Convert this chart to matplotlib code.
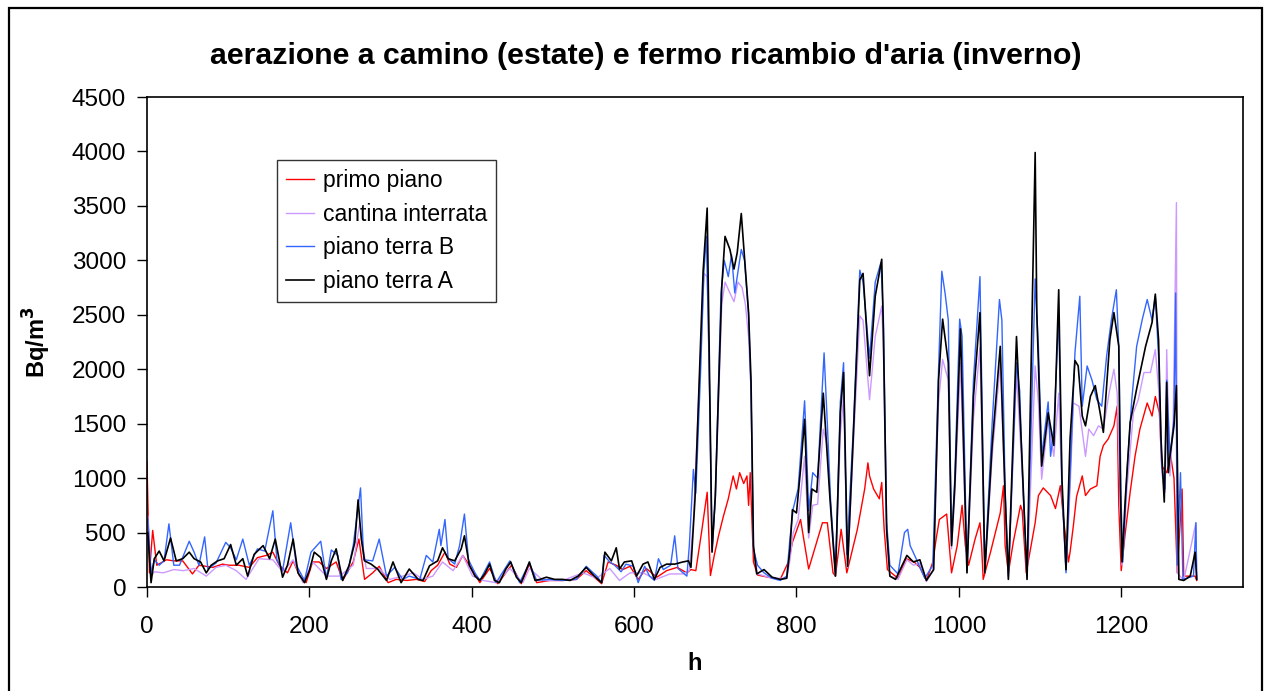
import matplotlib
matplotlib.use('Agg')
import matplotlib.pyplot as plt
from matplotlib.patches import Rectangle

plt.rcParams['font.family'] = ['Liberation Sans', 'DejaVu Sans']

TITLE = "aerazione a camino (estate) e fermo ricambio d'aria (inverno)"
LABELS = ['primo piano', 'cantina interrata', 'piano terra B', 'piano terra A']
COLORS = ['#FF0000', '#CC99FF', '#3366FF', '#000000']
WIDTHS = [1.0, 1.0, 1.0, 1.2]

# primo piano (red)
red_h = [0, 3, 7, 12, 24, 33, 44, 56, 64, 81, 93, 101, 113, 126, 136, 147, 155, 163, 173, 180,
         188, 196, 204, 212, 221, 233, 241, 254, 261, 268, 278, 286, 297, 307, 320, 332, 342, 350, 358, 367,
         373, 381, 389, 397, 410, 422, 432, 449, 461, 471, 480, 496, 512, 529, 541, 554, 560, 568, 578, 586,
         595, 605, 615, 628, 640, 653, 665, 670, 676, 683, 690, 694, 699, 704, 710, 716, 722, 726, 730, 735,
         739, 741, 743, 747, 752, 765, 780, 790, 795, 805, 811, 815, 820, 832, 838, 845, 848, 855, 862, 875,
         884, 888, 890, 895, 902, 905, 908, 912, 925, 935, 945, 952, 960, 968, 972, 976, 985, 991, 998, 1004,
         1008, 1012, 1020, 1026, 1028, 1030, 1039, 1051, 1055, 1057, 1061, 1067, 1076, 1078, 1083, 1094, 1098, 1104, 1113, 1119,
         1125, 1129, 1135, 1137, 1141, 1145, 1152, 1156, 1162, 1170, 1174, 1178, 1184, 1191, 1195, 1197, 1200, 1205, 1211, 1217,
         1223, 1232, 1238, 1242, 1247, 1250, 1256, 1261, 1265, 1269, 1275, 1277, 1291, 1293]
red_v = [1150, 130, 520, 200, 250, 240, 240, 120, 200, 180, 210, 200, 200, 180, 270, 290, 320, 200, 130, 240,
         100, 40, 230, 230, 170, 230, 60, 230, 440, 70, 130, 190, 40, 70, 60, 70, 50, 150, 200, 320,
         210, 180, 290, 200, 40, 170, 30, 200, 30, 210, 40, 60, 60, 70, 150, 70, 30, 230, 200, 160,
         190, 70, 170, 90, 150, 180, 130, 160, 150, 500, 870, 105, 300, 470, 650, 810, 1020, 900, 1050, 950,
         1020, 750, 1050, 230, 110, 90, 70, 230, 410, 620, 350, 165, 290, 590, 590, 130, 100, 530, 130, 530,
         900, 1140, 1020, 900, 810, 960, 530, 160, 80, 260, 230, 180, 60, 230, 440, 620, 670, 130, 380, 750,
         380, 200, 440, 590, 380, 70, 320, 680, 930, 380, 130, 410, 750, 700, 130, 590, 840, 910, 840, 720,
         930, 620, 230, 320, 560, 830, 1020, 840, 900, 930, 1200, 1300, 1360, 1480, 1660, 750, 150, 500, 870, 1200,
         1450, 1690, 1570, 1750, 1600, 1110, 1050, 1200, 1000, 130, 900, 100, 100, 60]

# cantina interrata (lilac)
lilac_h = [1, 5, 9, 20, 33, 45, 58, 73, 85, 97, 110, 122, 138, 155, 167, 180, 192, 204, 221, 237,
           254, 262, 270, 286, 299, 315, 328, 340, 352, 364, 377, 389, 401, 414, 430, 447, 463, 471, 488, 512,
           537, 554, 570, 582, 595, 611, 627, 644, 660, 668, 673, 680, 686, 690, 693, 696, 700, 708, 712, 718,
           723, 728, 733, 737, 741, 744, 747, 752, 770, 788, 792, 796, 802, 806, 810, 815, 820, 826, 833, 838,
           842, 848, 854, 858, 863, 870, 878, 882, 890, 897, 905, 907, 911, 915, 925, 936, 944, 952, 960, 968,
           975, 980, 987, 991, 995, 1002, 1010, 1018, 1026, 1032, 1041, 1051, 1057, 1061, 1071, 1078, 1084, 1094, 1098, 1102,
           1110, 1117, 1123, 1127, 1132, 1137, 1141, 1148, 1156, 1160, 1166, 1172, 1178, 1185, 1191, 1195, 1199, 1201, 1207, 1215,
           1221, 1228, 1236, 1242, 1246, 1250, 1254, 1256, 1260, 1264, 1268, 1269, 1277, 1292, 1293]
lilac_v = [650, 100, 140, 130, 160, 150, 170, 100, 180, 200, 150, 70, 260, 250, 140, 250, 40, 230, 100, 100,
           200, 590, 170, 170, 70, 100, 130, 70, 100, 230, 150, 290, 100, 60, 40, 170, 40, 170, 60, 60,
           130, 80, 170, 60, 130, 130, 70, 120, 120, 150, 600, 1800, 2880, 2850, 1800, 330, 800, 2600, 2800, 2700,
           2620, 2800, 2750, 2600, 2300, 1800, 350, 120, 80, 80, 250, 500, 620, 900, 1200, 450, 750, 760, 1450, 1300,
           750, 100, 1400, 1750, 180, 1300, 2490, 2450, 1720, 2300, 2580, 2200, 500, 100, 70, 250, 200, 220, 50, 150,
           1700, 2090, 1900, 350, 850, 2060, 130, 1550, 2200, 130, 1200, 2060, 800, 70, 1970, 1050, 70, 2030, 1700, 990,
           1540, 1200, 1780, 900, 150, 900, 1690, 1660, 1200, 1450, 1390, 1480, 1450, 1780, 2000, 1780, 700, 200, 900, 1600,
           1720, 1970, 1970, 2180, 1820, 1050, 870, 2180, 1020, 1510, 3530, 130, 60, 590, 70]

# piano terra B (blue)
blue_h = [1, 5, 9, 15, 21, 27, 33, 40, 52, 58, 64, 71, 75, 85, 97, 103, 110, 118, 126, 136,
          145, 155, 160, 167, 177, 184, 194, 202, 214, 221, 227, 235, 239, 247, 254, 263, 267, 278, 286, 295,
          305, 315, 323, 336, 344, 352, 360, 362, 367, 371, 379, 385, 391, 396, 404, 410, 422, 430, 447, 459,
          471, 480, 496, 512, 529, 541, 554, 560, 563, 570, 576, 584, 590, 599, 605, 613, 619, 625, 630, 636,
          645, 650, 654, 665, 668, 673, 676, 682, 686, 689, 692, 696, 700, 707, 711, 716, 720, 724, 728, 732,
          736, 741, 744, 747, 752, 760, 770, 780, 788, 792, 796, 802, 806, 810, 812, 815, 820, 826, 834, 838,
          842, 848, 854, 858, 862, 870, 878, 882, 890, 897, 904, 907, 911, 915, 925, 933, 937, 940, 948, 958,
          968, 975, 979, 983, 987, 991, 995, 1001, 1004, 1010, 1018, 1026, 1032, 1041, 1050, 1053, 1057, 1061, 1071, 1075,
          1078, 1084, 1094, 1098, 1102, 1110, 1113, 1117, 1123, 1127, 1132, 1138, 1143, 1149, 1152, 1158, 1164, 1170, 1176, 1182,
          1188, 1194, 1197, 1200, 1202, 1207, 1213, 1219, 1226, 1232, 1238, 1242, 1246, 1250, 1254, 1256, 1260, 1265, 1267, 1269,
          1273, 1276, 1289, 1292, 1293]
blue_v = [620, 130, 250, 200, 240, 580, 200, 200, 420, 320, 200, 460, 165, 220, 410, 360, 250, 440, 200, 350,
          330, 700, 250, 150, 590, 200, 60, 320, 420, 80, 340, 290, 70, 130, 380, 910, 250, 240, 440, 100,
          180, 70, 100, 70, 290, 230, 530, 380, 620, 260, 210, 380, 670, 250, 130, 60, 230, 40, 240, 40,
          220, 60, 70, 60, 70, 190, 100, 40, 290, 230, 200, 140, 210, 190, 40, 190, 100, 60, 260, 160,
          200, 470, 170, 100, 380, 1080, 860, 2000, 2900, 3220, 2200, 350, 800, 2700, 3000, 2850, 3050, 2700, 2900, 3100,
          3000, 2500, 1800, 350, 200, 130, 80, 60, 100, 450, 720, 900, 1300, 1710, 1350, 700, 1050, 1000, 2150, 1500,
          800, 130, 1700, 2060, 300, 1450, 2910, 2800, 2100, 2800, 2980, 2500, 600, 200, 120, 500, 530, 380, 250, 80,
          200, 2000, 2900, 2700, 2450, 400, 1000, 2460, 2300, 150, 1900, 2850, 150, 1500, 2640, 2450, 900, 100, 2060, 1800,
          1100, 100, 2830, 2200, 1200, 1700, 1200, 1450, 2500, 900, 130, 1200, 2150, 2670, 1660, 2030, 1900, 1720, 1660, 2120,
          2460, 2730, 2200, 750, 230, 1050, 1720, 2210, 2460, 2640, 2450, 2670, 2120, 1110, 900, 1900, 1200, 1540, 2700, 200,
          1050, 70, 100, 590, 70]

# piano terra A (black)
black_h = [1, 5, 9, 15, 21, 29, 36, 44, 52, 58, 66, 73, 79, 87, 95, 103, 110, 118, 124, 132,
           143, 151, 158, 167, 173, 180, 186, 194, 200, 206, 214, 221, 227, 233, 241, 249, 256, 260, 264, 268,
           276, 284, 295, 303, 313, 323, 334, 340, 348, 358, 364, 371, 379, 387, 391, 397, 404, 410, 416, 422,
           428, 434, 442, 448, 455, 461, 471, 478, 484, 492, 502, 512, 521, 531, 541, 551, 560, 564, 572, 578,
           582, 588, 597, 603, 611, 617, 625, 632, 640, 650, 660, 667, 670, 675, 685, 690, 693, 696, 700, 708,
           712, 718, 723, 727, 732, 735, 741, 744, 747, 751, 760, 770, 780, 788, 792, 795, 800, 805, 810, 815,
           819, 825, 833, 841, 848, 854, 858, 863, 870, 878, 882, 890, 897, 905, 907, 911, 915, 922, 936, 944,
           952, 960, 969, 975, 980, 987, 991, 995, 1002, 1010, 1018, 1026, 1032, 1041, 1051, 1057, 1061, 1071, 1078, 1084,
           1094, 1096, 1102, 1110, 1117, 1123, 1127, 1132, 1137, 1143, 1147, 1152, 1156, 1162, 1168, 1174, 1178, 1186, 1191, 1197,
           1199, 1201, 1205, 1211, 1219, 1230, 1238, 1242, 1246, 1249, 1253, 1256, 1258, 1260, 1265, 1268, 1271, 1277, 1285, 1291,
           1293]
black_v = [500, 40, 260, 330, 240, 450, 240, 260, 320, 260, 230, 130, 200, 240, 260, 390, 200, 260, 100, 300,
           380, 260, 440, 90, 200, 440, 130, 40, 150, 320, 270, 70, 240, 350, 60, 200, 410, 800, 440, 240,
           210, 165, 60, 230, 40, 165, 70, 60, 195, 240, 360, 260, 240, 350, 470, 200, 100, 60, 120, 210,
           60, 40, 165, 230, 90, 40, 230, 60, 70, 90, 70, 70, 60, 100, 180, 100, 40, 320, 240, 360,
           165, 230, 240, 100, 210, 230, 70, 180, 210, 210, 230, 240, 180, 810, 2900, 3480, 1900, 320, 840, 2760,
           3220, 3100, 2920, 3070, 3430, 3130, 2520, 1900, 380, 120, 160, 90, 70, 80, 350, 710, 680, 1080, 1540, 500,
           900, 870, 1780, 840, 100, 1600, 1970, 190, 1390, 2820, 2880, 1940, 2670, 3010, 2360, 530, 100, 70, 290, 230,
           250, 60, 160, 1900, 2460, 2060, 380, 930, 2370, 130, 1750, 2520, 130, 1300, 2210, 840, 70, 2300, 1140, 70,
           3990, 2520, 1110, 1600, 1300, 2730, 990, 160, 1360, 2080, 2030, 1570, 1480, 1750, 1850, 1600, 1420, 2270, 2520, 2210,
           900, 230, 810, 1510, 1820, 2210, 2430, 2690, 2270, 1360, 780, 1880, 1050, 1200, 1480, 1850, 70, 60, 100, 320,
           70]

series = [(red_h, red_v), (lilac_h, lilac_v), (blue_h, blue_v), (black_h, black_v)]

W, H = 1267, 691
fig = plt.figure(figsize=(W / 100, H / 100), dpi=100)
ax = fig.add_axes([147 / W, 1 - 587 / H, (1243 - 147) / W, (587 - 97) / H])

for (xs, ys), label, color, lw in zip(series, LABELS, COLORS, WIDTHS):
  ax.plot(xs, ys, color=color, lw=lw, label=label)

ax.set_xlim(0, 1350)
ax.set_ylim(0, 4500)
ax.set_xticks(range(0, 1201, 200))
ax.set_yticks(range(0, 4501, 500))
ax.tick_params(axis='both', direction='out', length=7, width=1, labelsize=17.5)
ax.tick_params(axis='x', pad=14)
ax.tick_params(axis='y', pad=8)
for sp in ax.spines.values():
  sp.set_linewidth(1.2)

ax.set_xlabel('h', fontsize=17, fontweight='bold', labelpad=10)
fig.text(37 / W, 1 - 342 / H, 'Bq/m$^\\mathbf{3}$', rotation=90, fontsize=17, fontweight='bold',
         ha='center', va='center')
fig.text(646 / W, 1 - 56 / H, TITLE, fontsize=21.8, fontweight='bold', ha='center', va='center')

leg = ax.legend(loc='upper left', bbox_to_anchor=(277 / W, 1 - 160 / H), bbox_transform=fig.transFigure,
                fontsize=16.5, frameon=True, fancybox=False, borderaxespad=0, borderpad=0.4,
                handlelength=1.22, handletextpad=0.38, labelspacing=0.46)
leg.get_frame().set_edgecolor('black')
leg.get_frame().set_linewidth(1.0)

fig.patches.append(Rectangle((8.5 / W, -0.05), (1262 - 8.5) / W, 1.05 - 8.5 / H, transform=fig.transFigure,
                             fill=False, edgecolor='black', lw=1.6))

fig.savefig('out.png', dpi=100)
